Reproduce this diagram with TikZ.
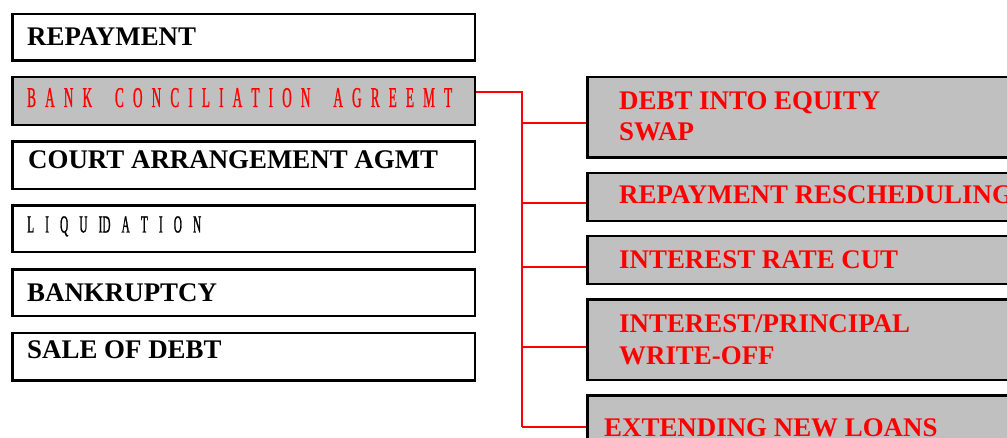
\documentclass[tikz,border=0pt]{standalone}
\usepackage{fontspec}
\setmainfont{Liberation Serif}
\newfontfamily\condfont[FakeStretch=0.46,FakeBold=0.8]{Liberation Serif}
\definecolor{boxgray}{HTML}{C0C0C0}
\begin{document}
\begin{tikzpicture}[x=1pt,y=-1pt,
  lbox/.style={draw=black, line width=2.5pt, fill=white, inner sep=0pt,
    minimum width=462.5pt, anchor=north west},
  rbox/.style={draw=black, line width=2.5pt, fill=boxgray, inner sep=0pt,
    minimum width=500pt, anchor=north west},
  conn/.style={draw=red, line width=2.1pt},
  lbl/.style={anchor=base west, inner sep=0pt, font=\bfseries\fontsize{26.9}{30}\selectfont},
  rlbl/.style={lbl, text=red},
  cond/.style={anchor=base west, inner sep=0pt}]
\useasboundingbox (0,0) rectangle (1007,438);
\clip (0,0) rectangle (1007,438);
\fill[white] (0,0) rectangle (1007,438);

% trunk and branches
\coordinate (tTop) at (521.7,91.7);
\coordinate (j1) at (521.7,123.3);
\coordinate (j2) at (521.7,203.3);
\coordinate (j3) at (521.7,266.7);
\coordinate (j4) at (521.7,346.7);
\coordinate (tBot) at (521.7,426.7);

% right boxes (positions)
\path (586,76) coordinate (p1) (586,171.8) coordinate (p2) (586,235) coordinate (p3)
      (586,298.3) coordinate (p4) (586,394.3) coordinate (p5);

% left boxes
\node[lbox, minimum height=46.5pt] (repay) at (11,13) {};
\node[lbox, minimum height=48pt, fill=boxgray] (bank) at (11,76) {};
\node[lbox, minimum height=47.5pt] (court) at (11,140.5) {};
\node[lbox, minimum height=46.5pt] (liq) at (11,204.5) {};
\node[lbox, minimum height=46.7pt] (bankr) at (11,268.3) {};
\node[lbox, minimum height=47.2pt] (sale) at (11,331.8) {};

% connectors
\draw[conn] (bank.east |- tTop) -- (tTop) -- (tBot);
\draw[conn] (j1) -- (j1 -| p1);
\draw[conn] (j2) -- (j2 -| p2);
\draw[conn] (j3) -- (j3 -| p3);
\draw[conn] (j4) -- (j4 -| p4);
\draw[conn] (tBot) -- (tBot -| p5);

% right boxes
\node[rbox, minimum height=80.5pt] (r1) at (p1) {};
\node[rbox, minimum height=48pt] (r2) at (p2) {};
\node[rbox, minimum height=48pt] (r3) at (p3) {};
\node[rbox, minimum height=80.4pt] (r4) at (p4) {};
\node[rbox, minimum height=80pt] (r5) at (p5) {};

% left texts
\node[lbl] (trepay) at (27,46) {REPAYMENT};
\node[cond, text=red] (tbank) at (27,107) {\condfont\fontsize{28.7}{30}\selectfont
  \makebox[425pt][s]{B\hfill A\hfill N\hfill K\hskip0pt plus 2.5fill
  C\hfill O\hfill N\hfill C\hfill I\hfill L\hfill I\hfill A\hfill T\hfill I\hfill O\hfill N\hskip0pt plus 2.5fill
  A\hfill G\hfill R\hfill E\hfill E\hfill M\hfill T}};
\node[lbl] (tcourt) at (28,168.3) {COURT ARRANGEMENT AGMT};
\node[cond] (tliq) at (27,232.5) {\condfont\fontsize{24.5}{26}\selectfont
  \makebox[174pt][s]{L\hfill I\hfill Q\hfill U\hfill ID\hfill A\hfill T\hfill I\hfill O\hfill N}};
\node[lbl] (tbankr) at (27,301.7) {BANKRUPTCY};
\node[lbl] (tsale) at (27,358.3) {SALE OF DEBT};

% right texts
\node[rlbl] (tr1a) at (619,110) {DEBT INTO EQUITY};
\node[rlbl] (tr1b) at (619,141) {SWAP};
\node[rlbl] (tr2) at (619,204) {REPAYMENT RESCHEDULING};
\node[rlbl] (tr3) at (619,269) {INTEREST RATE CUT};
\node[rlbl] (tr4a) at (619,332.5) {INTEREST/PRINCIPAL};
\node[rlbl] (tr4b) at (619,364) {WRITE-OFF};
\node[rlbl] (tr5) at (604,436) {EXTENDING NEW LOANS};
\end{tikzpicture}
\end{document}
